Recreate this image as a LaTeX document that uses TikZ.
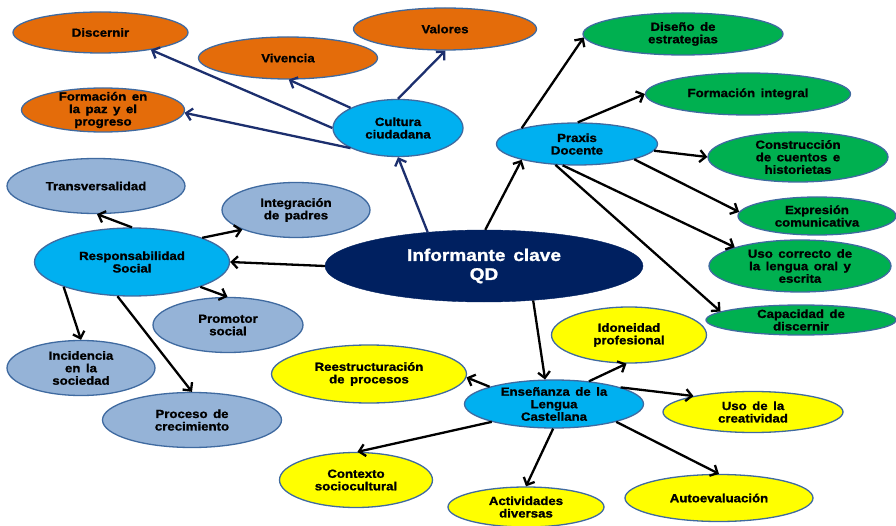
\documentclass[tikz,border=0pt]{standalone}
\usepackage{fontspec}
\setmainfont{Liberation Sans}[FakeStretch=1.12, WordSpace=1.5, BoldFeatures={FakeBold=1.2}]
\usetikzlibrary{arrows.meta,shapes.geometric}

\definecolor{bgorange}{HTML}{E46C0A}
\definecolor{bgsky}{HTML}{00B0F0}
\definecolor{bggreen}{HTML}{00B050}
\definecolor{bgyellow}{HTML}{FFFF00}
\definecolor{bgsteel}{HTML}{95B3D7}
\definecolor{bgnavy}{HTML}{002060}
\definecolor{rimblue}{HTML}{3F6AA0}
\definecolor{navyline}{HTML}{1C2F6E}

\begin{document}
\begin{tikzpicture}[x=1bp, y=-1bp,
  bubble/.style={ellipse, draw=rimblue, line width=1.3bp, inner sep=0pt},
  caption/.style={inner sep=0pt, align=center, text=black,
    font=\fontsize{11.8bp}{12.5bp}\selectfont\bfseries},
  orangeb/.style={bubble, fill=bgorange},
  skyb/.style={bubble, fill=bgsky},
  greenb/.style={bubble, fill=bggreen},
  yellowb/.style={bubble, fill=bgyellow},
  steelb/.style={bubble, fill=bgsteel},
  link/.style={draw=black, line width=2.3bp,
    -{Straight Barb[length=6bp, width=12bp, line width=2.3bp]}},
  navylink/.style={link, draw=navyline}
]
\fill[white] (0,0) rectangle (896,526);
\useasboundingbox (0,0) rectangle (896,526);

% central node
\node[ellipse, fill=bgnavy, draw=bgnavy, inner sep=0pt,
  minimum width=318bp, minimum height=72bp,
  label={[inner sep=0pt, align=center, text=white,
    font=\fontsize{17bp}{19bp}\selectfont\bfseries]center:{Informante clave\\QD}}]
  (inf) at (484,266) {};

% Cultura ciudadana branch
\node[skyb, minimum width=130bp, minimum height=57bp,
  label={[caption]center:{Cultura\\ciudadana}}] (cult) at (398,128) {};
\node[orangeb, minimum width=175bp, minimum height=41bp,
  label={[caption]center:{Discernir}}] (disc) at (100.5,32.5) {};
\node[orangeb, minimum width=179bp, minimum height=42bp,
  label={[caption]center:{Vivencia}}] (viv) at (288,58) {};
\node[orangeb, minimum width=183bp, minimum height=42bp,
  label={[caption]center:{Valores}}] (val) at (445,29) {};
\node[orangeb, minimum width=163bp, minimum height=44bp,
  label={[caption]center:{Formación en\\la paz y el\\progreso}}] (paz) at (103,110) {};

% Praxis Docente branch
\node[skyb, minimum width=161bp, minimum height=42bp,
  label={[caption]center:{Praxis\\Docente}}] (prax) at (577,144) {};
\node[greenb, minimum width=200bp, minimum height=42bp,
  label={[caption]center:{Diseño de\\estrategias}}] (dis) at (683,34) {};
\node[greenb, minimum width=205bp, minimum height=42bp,
  label={[caption]center:{Formación integral}}] (fint) at (748,94) {};
\node[greenb, minimum width=180bp, minimum height=50bp,
  label={[caption]center:{Construcción\\de cuentos e\\historietas}}] (cons) at (798,157) {};
\node[greenb, minimum width=158bp, minimum height=38bp,
  label={[caption]center:{Expresión\\comunicativa}}] (expr) at (817,216) {};
\node[greenb, minimum width=182bp, minimum height=52bp,
  label={[caption]center:{Uso correcto de\\la lengua oral y\\escrita}}] (usoc) at (800,266) {};
\node[greenb, minimum width=190bp, minimum height=30bp,
  label={[caption]center:{Capacidad de\\discernir}}] (capd) at (801,320) {};

% Responsabilidad Social branch
\node[skyb, minimum width=195bp, minimum height=68bp,
  label={[caption]center:{Responsabilidad\\Social}}] (resp) at (132,262) {};
\node[steelb, minimum width=178bp, minimum height=55bp,
  label={[caption]center:{Transversalidad}}] (trans) at (96,186) {};
\node[steelb, minimum width=148bp, minimum height=55bp,
  label={[caption]center:{Integración\\de padres}}] (integ) at (296,210) {};
\node[steelb, minimum width=150bp, minimum height=55bp,
  label={[caption]center:{Promotor\\social}}] (prom) at (228,325) {};
\node[steelb, minimum width=148bp, minimum height=55bp,
  label={[caption]center:{Incidencia\\en la\\sociedad}}] (incid) at (81,368) {};
\node[steelb, minimum width=179bp, minimum height=55bp,
  label={[caption]center:{Proceso de\\crecimiento}}] (proc) at (192,420) {};

% Enseñanza de la Lengua Castellana branch
\node[skyb, minimum width=179bp, minimum height=48bp,
  label={[caption]center:{Enseñanza de la\\Lengua\\Castellana}}] (ens) at (554,404) {};
\node[yellowb, minimum width=195bp, minimum height=58bp,
  label={[caption]center:{Reestructuración\\de procesos}}] (reest) at (369,374) {};
\node[yellowb, minimum width=155bp, minimum height=56bp,
  label={[caption]center:{Idoneidad\\profesional}}] (idon) at (629,335) {};
\node[yellowb, minimum width=180bp, minimum height=41bp,
  label={[caption]center:{Uso de la\\creatividad}}] (cre) at (753,412) {};
\node[yellowb, minimum width=153bp, minimum height=55bp,
  label={[caption]center:{Contexto\\sociocultural}}] (ctx) at (356,480) {};
\node[yellowb, minimum width=156bp, minimum height=40bp,
  label={[caption]center:{Actividades\\diversas}}] (act) at (526,507) {};
\node[yellowb, minimum width=188bp, minimum height=47bp,
  label={[caption]center:{Autoevaluación}}] (auto) at (719,498) {};

% connectors from the central node
\draw[navylink] (inf.149) -- (cult.270);
\draw[link] (inf.88) -- (prax.196);
\draw[link] (inf.180) -- (resp.0);
\draw[link] (inf.325) -- (ens.110);

% Cultura ciudadana
\draw[navylink] (cult.180) -- (disc.341);
\draw[navylink] (cult.157) -- (viv.272);
\draw[navylink] (cult.90) -- (val.271);
\draw[navylink] (cult.203) -- (paz.358);

% Praxis Docente
\draw[link] (prax.164) -- (dis.182);
\draw[link] (prax.88) -- (fint.180);
\draw[link] (prax.355) -- (cons.180);
\draw[link] (prax.345) -- (expr.177);
\draw[link] (prax.236) -- (usoc.164);
\draw[link] (prax.224) -- (capd.174);

% Responsabilidad Social
\draw[link] (resp.90) -- (trans.272);
\draw[link] (resp.19) -- (integ.200);
\draw[link] (resp.340) -- (prom.91);
\draw[link] (resp.200) -- (incid.90);
\draw[link] (resp.247) -- (proc.90);

% Enseñanza de la Lengua Castellana
\draw[link] (ens.165) -- (reest.358);
\draw[link] (ens.33) -- (idon.265);
\draw[link] (ens.14) -- (cre.165);
\draw[link] (ens.196) -- (ctx.87);
\draw[link] (ens.268) -- (act.90);
\draw[link] (ens.344) -- (auto.90);
\end{tikzpicture}
\end{document}
